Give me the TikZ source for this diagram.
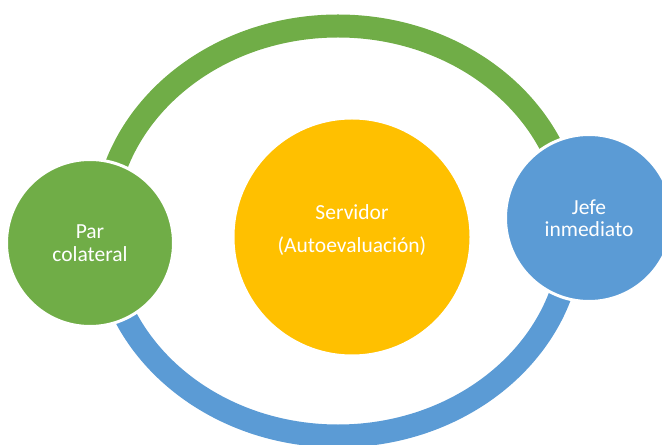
\documentclass[tikz,border=0pt]{standalone}
\usepackage{fontspec}
\setmainfont{Carlito}
\definecolor{offgreen}{HTML}{70AD47}
\definecolor{offblue}{HTML}{5B9BD5}
\definecolor{offgold}{HTML}{FFC000}
\begin{document}
\begin{tikzpicture}[x=1bp,y=-1bp,
  ring/.style={line width=23bp},
  caption/.style={text=white, align=center, font=\fontsize{21.5bp}{22.5bp}\selectfont},
  member/.style={circle, draw=white, line width=3bp, inner sep=0pt, caption},
]
\useasboundingbox (0,0) rectangle (662,445);
% feedback ring: upper half green, lower half blue (y axis points down)
\draw[ring, offgreen] (104,231) arc[start angle=180, end angle=360, x radius=234, y radius=205];
\draw[ring, offblue] (572,231) arc[start angle=0, end angle=180, x radius=234, y radius=205];
% evaluators and the evaluated person
\node[member, fill=offgreen, minimum size=167bp] (par) at (90,243) {Par\\colateral};
\node[member, fill=offblue, minimum size=167bp] (jefe) at (589,218) {Jefe\\inmediato};
\node[member, fill=offgold, minimum size=238bp] (servidor) at (352,237) {};
\node[caption] (servidortext) at (352,230) {Servidor\\[10bp](Autoevaluación)};
\end{tikzpicture}
\end{document}
